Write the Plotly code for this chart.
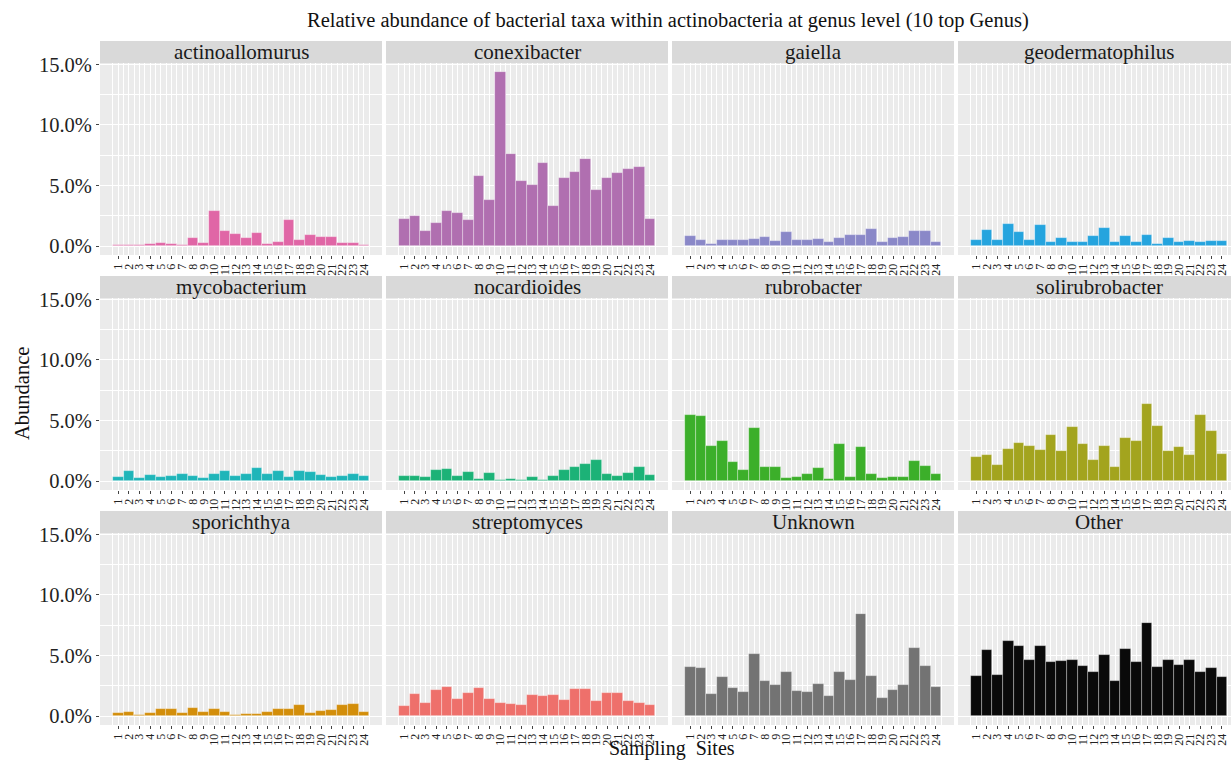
import plotly.graph_objects as go

# Relative abundance (%) of the top actinobacterial genera at 24 sampling sites
sites = list(range(1, 25))

genera = ["actinoallomurus", "conexibacter", "gaiella", "geodermatophilus",
          "mycobacterium", "nocardioides", "rubrobacter", "solirubrobacter",
          "sporichthya", "streptomyces", "Unknown", "Other"]

actinoallomurus = [0.08, 0.10, 0.10, 0.15, 0.25, 0.15, 0.10, 0.68, 0.25, 2.93, 1.22, 1.03,
                   0.68, 1.09, 0.22, 0.35, 2.15, 0.49, 0.90, 0.76, 0.73, 0.25, 0.25, 0.14]
conexibacter = [2.25, 2.47, 1.25, 1.94, 2.89, 2.75, 2.19, 5.78, 3.83, 14.39, 7.64, 5.42,
                5.06, 6.83, 3.33, 5.64, 6.14, 7.19, 4.67, 5.64, 6.08, 6.33, 6.50, 2.28]
gaiella = [0.83, 0.55, 0.22, 0.52, 0.55, 0.50, 0.61, 0.80, 0.41, 1.16, 0.52, 0.50,
           0.61, 0.36, 0.69, 0.91, 0.94, 1.41, 0.36, 0.72, 0.80, 1.24, 1.22, 0.39]
geodermatophilus = [0.50, 1.33, 0.52, 1.85, 1.19, 0.55, 1.74, 0.39, 0.69, 0.39, 0.39, 0.86,
                    1.52, 0.39, 0.83, 0.33, 0.91, 0.19, 0.66, 0.33, 0.44, 0.39, 0.44, 0.44]
mycobacterium = [0.33, 0.83, 0.31, 0.50, 0.36, 0.47, 0.64, 0.42, 0.31, 0.61, 0.83, 0.44,
                 0.56, 1.08, 0.56, 0.83, 0.33, 0.86, 0.75, 0.50, 0.33, 0.44, 0.56, 0.42]
nocardioides = [0.47, 0.42, 0.36, 0.89, 1.03, 0.47, 0.75, 0.19, 0.67, 0.14, 0.19, 0.14,
                0.39, 0.08, 0.42, 0.94, 1.17, 1.44, 1.78, 0.61, 0.44, 0.69, 1.19, 0.53]
rubrobacter = [5.50, 5.39, 2.94, 3.33, 1.61, 0.97, 4.42, 1.19, 1.14, 0.31, 0.39, 0.61,
               1.11, 0.17, 3.11, 0.36, 2.81, 0.64, 0.31, 0.36, 0.36, 1.69, 1.28, 0.58]
solirubrobacter = [2.03, 2.14, 1.33, 2.64, 3.19, 2.89, 2.58, 3.78, 2.53, 4.50, 3.11, 1.75,
                   2.92, 1.17, 3.58, 3.31, 6.36, 4.53, 2.47, 2.86, 2.17, 5.44, 4.17, 2.25]
sporichthya = [0.25, 0.33, 0.14, 0.25, 0.58, 0.64, 0.28, 0.69, 0.36, 0.58, 0.36, 0.14,
               0.17, 0.19, 0.39, 0.58, 0.56, 0.92, 0.25, 0.44, 0.50, 0.97, 1.03, 0.33]
streptomyces = [0.81, 1.86, 1.11, 2.14, 2.42, 1.42, 1.94, 2.31, 1.44, 1.08, 1.00, 0.94,
                1.72, 1.67, 1.78, 1.36, 2.28, 2.28, 1.28, 1.89, 1.89, 1.22, 1.06, 0.97]
unknown = [4.05, 4.02, 1.85, 3.22, 2.34, 1.96, 5.12, 2.87, 2.59, 3.64, 2.07, 1.96,
           2.70, 1.65, 3.66, 3.00, 8.43, 3.28, 1.54, 2.15, 2.56, 5.64, 4.13, 2.40]
other = [3.28, 5.45, 3.42, 6.20, 5.81, 4.63, 5.79, 4.44, 4.55, 4.60, 4.13, 3.69,
         5.04, 2.89, 5.54, 4.46, 7.66, 4.05, 4.66, 4.24, 4.60, 3.64, 3.97, 3.20]

series = [actinoallomurus, conexibacter, gaiella, geodermatophilus, mycobacterium,
          nocardioides, rubrobacter, solirubrobacter, sporichthya, streptomyces,
          unknown, other]

colors = ["#E066A6", "#B06FB0", "#8A88C8", "#25A4DE", "#1FB5B9", "#1CB277",
          "#3CAF2A", "#A3A41E", "#D38E0A", "#EE706B", "#737373", "#0A0A0A"]

y_ticks = [0, 5, 10, 15]
y_tick_text = ["0.0%", "5.0%", "10.0%", "15.0%"]

W, H = 1231, 762
FONT = "Liberation Serif, Times New Roman, serif"

col_left = [100, 386, 672, 958]
panel_w = 282
row_top = [63, 298, 533]
panel_h = 192
strip_h = 22

x_lo, x_hi = -0.7, 25.7
y_lo, y_hi = -0.72, 15.11
units_per_px = (x_hi - x_lo) / panel_w

fig = go.Figure()
shapes = []
annotations = []

for i, (name, vals, col) in enumerate(zip(genera, series, colors)):
    r, c = divmod(i, 4)
    idx = "" if i == 0 else str(i + 1)
    left = col_left[c]
    right = min(left + panel_w, W)
    top = row_top[r]
    x_end = x_lo + (right - left) * units_per_px

    fig.add_trace(go.Bar(
        x=sites, y=vals, width=1.0,
        marker=dict(color=col, line=dict(color="rgba(255,255,255,0.45)", width=0.7)),
        xaxis="x" + idx, yaxis="y" + idx, showlegend=False,
        hovertemplate=name + "<br>Site %{x}: %{y:.2f}%<extra></extra>",
    ))

    xdom = [left / W, right / W]
    ydom = [1 - (top + panel_h) / H, 1 - top / H]

    fig.layout["xaxis" + idx] = dict(
        domain=xdom, anchor="y" + idx, range=[x_lo, x_end],
        tickmode="array", tickvals=sites, ticktext=[str(s) for s in sites],
        tickangle=-90, tickfont=dict(family=FONT, size=12, color="#222"),
        ticks="outside", ticklen=3, tickcolor="#444", tickwidth=1,
        showgrid=True, gridcolor="white", gridwidth=1.1,
        minor=dict(tickvals=[s - 0.5 for s in sites] + [24.5], showgrid=True,
                   gridcolor="white", gridwidth=0.55, ticks=""),
        zeroline=False, showline=False, fixedrange=True, automargin=False,
    )
    fig.layout["yaxis" + idx] = dict(
        domain=ydom, anchor="x" + idx, range=[y_lo, y_hi],
        tickmode="array", tickvals=y_ticks,
        ticktext=y_tick_text if c == 0 else [""] * len(y_ticks),
        tickfont=dict(family=FONT, size=20.5, color="#222"),
        ticks="outside" if c == 0 else "", ticklen=3, tickcolor="#444",
        showgrid=True, gridcolor="white", gridwidth=1.1,
        minor=dict(tickvals=[2.5, 7.5, 12.5], showgrid=True,
                   gridcolor="white", gridwidth=0.55, ticks=""),
        zeroline=False, showline=False, fixedrange=True, automargin=False,
    )

    # panel background
    shapes.append(dict(type="rect", xref="paper", yref="paper", layer="below",
                       x0=xdom[0], x1=xdom[1], y0=ydom[0], y1=ydom[1],
                       fillcolor="#EBEBEB", line=dict(width=0)))
    # facet strip
    shapes.append(dict(type="rect", xref="paper", yref="paper", layer="below",
                       x0=xdom[0], x1=xdom[1],
                       y0=1 - top / H, y1=1 - (top - strip_h) / H,
                       fillcolor="#D9D9D9", line=dict(width=0)))
    annotations.append(dict(
        text=name, xref="paper", yref="paper",
        x=(left + panel_w / 2) / W, y=1 - (top - strip_h / 2) / H,
        xanchor="center", yanchor="middle", showarrow=False,
        font=dict(family=FONT, size=21, color="#1a1a1a"),
    ))

annotations.append(dict(
    text="Abundance", xref="paper", yref="paper", x=22 / W, y=1 - 394 / H,
    textangle=-90, xanchor="center", yanchor="middle", showarrow=False,
    font=dict(family=FONT, size=20.5, color="#111"),
))
annotations.append(dict(
    text="Sampling  Sites", xref="paper", yref="paper", x=672 / W, y=0,
    xanchor="center", yanchor="bottom", showarrow=False,
    font=dict(family=FONT, size=20, color="#111"),
))
annotations.append(dict(
    text="Relative abundance of bacterial taxa within actinobacteria at genus level (10 top Genus)",
    xref="paper", yref="paper", x=668 / W, y=1 - 20 / H,
    xanchor="center", yanchor="middle", showarrow=False,
    font=dict(family=FONT, size=20.5, color="#111"),
))

fig.update_layout(
    width=W, height=H,
    margin=dict(l=0, r=0, t=0, b=0),
    paper_bgcolor="white", plot_bgcolor="rgba(0,0,0,0)",
    shapes=shapes, annotations=annotations,
    bargap=0, showlegend=False,
)

fig.write_html("out.html")
